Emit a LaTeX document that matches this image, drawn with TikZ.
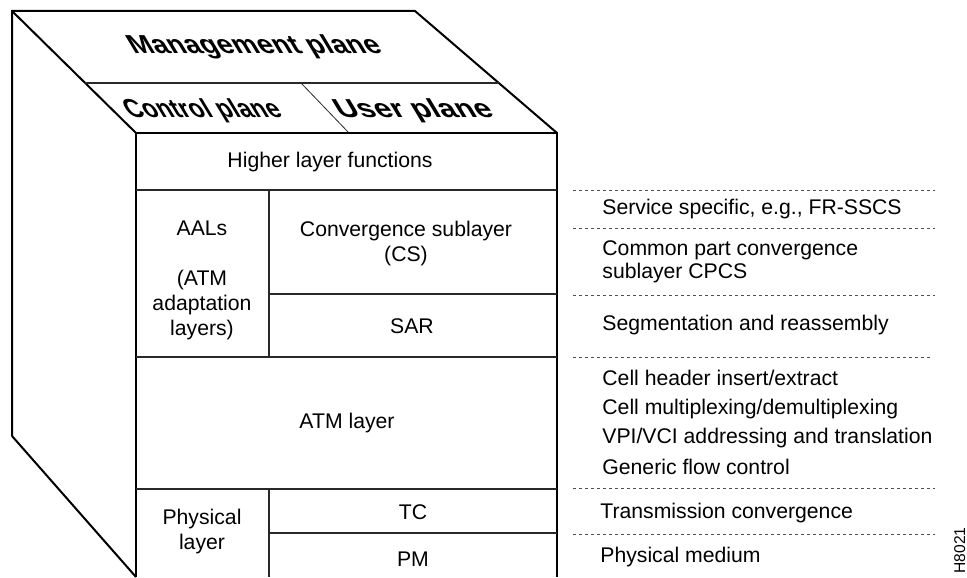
\documentclass[tikz,border=0pt]{standalone}
\usepackage{fontspec}
\setmainfont{Liberation Sans}
\usepackage{tikz}
\usetikzlibrary{positioning}
\definecolor{DotGray}{RGB}{80,80,80}
\definecolor{CellGray}{RGB}{40,40,40}
\begin{document}
\begin{tikzpicture}[x=0.5pt,y=-0.5pt,
  lyr/.style={font=\fontsize{10.6}{12.5}\selectfont,align=center,inner sep=0pt},
  fn/.style={font=\fontsize{10.6}{11.6}\selectfont,anchor=west,align=left,inner sep=0pt},
  pln/.style={font=\fontsize{13}{15}\selectfont\bfseries,transform shape,xslant=-0.6,inner sep=0pt},
  edge/.style={line width=1pt},
  cell/.style={line width=0.6pt,CellGray},
  sep/.style={line width=0.5pt,DotGray,dash pattern=on 1.5pt off 1.5pt},
]
\useasboundingbox (0,0) rectangle (967,577);
\clip (0,0) rectangle (967,577);
% cube outline
\draw[edge] (12,436) -- (12,11) -- (415,11) -- (557,133);
\draw[edge] (12,11) -- (136,133);
\draw[edge] (12,436) -- (136,577);
\draw[cell] (85,83) -- (499,83);
\draw[cell,line width=0.4pt] (301,83) -- (349,133);
\node[pln,xscale=1.07] (mgmt) at (255,47) {Management plane};
\node[pln,xscale=0.92] (ctrl) at (203,111) {Control plane};
\node[pln,xscale=1.17] (user) at (414,111) {User plane};
% front face
\draw[edge] (136,577) -- (136,133) -- (557,133) -- (557,577);
\draw[cell] (136,190) -- (557,190);
\draw[cell] (269,190) -- (269,357);
\draw[cell] (269,294) -- (557,294);
\draw[cell] (136,357) -- (557,357);
\draw[cell] (136,489) -- (557,489);
\draw[cell] (269,489) -- (269,577);
\draw[cell] (269,533) -- (557,533);
\node[lyr] (hlf) at (330,162) {Higher layer functions};
\node[lyr] (aal) at (202,228) {AALs};
\node[lyr] (aalx) at (202,305) {(ATM\\adaptation\\layers)};
\node[lyr] (cs) at (406,244) {Convergence sublayer\\(CS)};
\node[lyr] (sar) at (412,326) {SAR};
\node[lyr] (atm) at (347,423) {ATM layer};
\node[lyr] (phy) at (202,532) {Physical\\layer};
\node[lyr] (tc) at (413,512) {TC};
\node[lyr] (pm) at (413,559) {PM};
% functions
\draw[sep] (573,191) -- (935,191);
\draw[sep] (573,228) -- (935,228);
\draw[sep] (573,295) -- (935,295);
\draw[sep] (573,357) -- (930,357);
\draw[sep] (573,488) -- (935,488);
\draw[sep] (573,534) -- (935,534);
\node[fn] (sscs) at (602,209) {Service specific, e.g., FR-SSCS};
\node[fn] (cpcs) at (602,262) {Common part convergence\\sublayer CPCS};
\node[fn] (seg) at (602,325) {Segmentation and reassembly};
\node[fn] (hdr) at (602,378) {Cell header insert/extract};
\node[fn] (mux) at (602,409) {Cell multiplexing/demultiplexing};
\node[fn] (vpi) at (602,438) {VPI/VCI addressing and translation};
\node[fn] (gfc) at (602,467) {Generic flow control};
\node[fn] (tcf) at (600,513) {Transmission convergence};
\node[fn] (pmf) at (600,557) {Physical medium};
\node[font=\fontsize{7.8}{9}\selectfont,rotate=90,anchor=base west,inner sep=0pt] (fig) at (965,574) {H8021};
\end{tikzpicture}
\end{document}
